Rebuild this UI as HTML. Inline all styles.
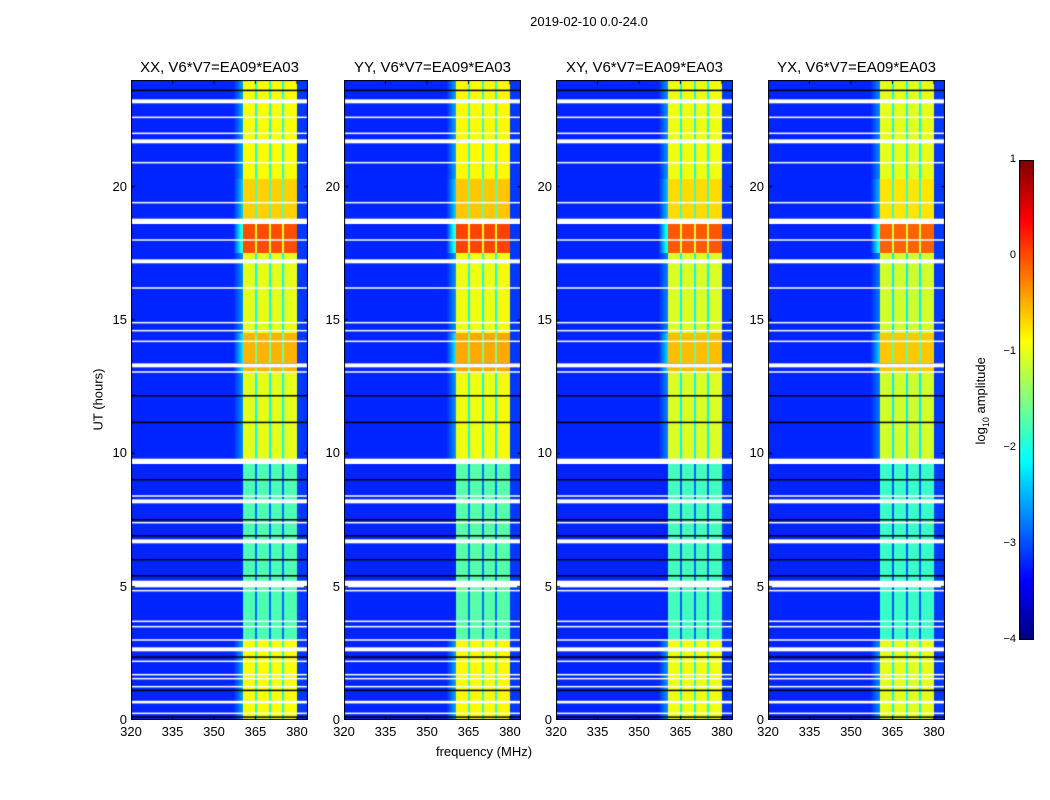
<!DOCTYPE html>
<html><head><meta charset="utf-8"><style>
body{margin:0;background:#fff;width:1050px;height:800px;position:relative;overflow:hidden;font-family:"Liberation Sans",sans-serif}
.t{position:absolute;white-space:nowrap;color:#000}
canvas{position:absolute}
</style></head><body>
<div class="t" style="left:489px;top:14px;width:200px;text-align:center;font-size:13px">2019-02-10 0.0-24.0</div>
<div class="t" style="left:384px;top:744px;width:200px;text-align:center;font-size:13px">frequency (MHz)</div>
<div class="t" style="left:48px;top:392px;width:100px;text-align:center;font-size:13px;transform:rotate(-90deg)">UT (hours)</div>
<div class="t" style="left:932px;top:392px;width:100px;text-align:center;font-size:13px;transform:rotate(-90deg)">log<sub style="font-size:9px">10</sub> amplitude</div>
<div id="root"></div>
<script>
// ---- data ----
const panelTitles=["XX, V6*V7=EA09*EA03","YY, V6*V7=EA09*EA03","XY, V6*V7=EA09*EA03","YX, V6*V7=EA09*EA03"];
const panelLeft=[131,344,556,768];
const panelGain=[0,0.05,-0.05,-0.1];
const segStart=[0,3,9.7,13,14.5,17.5,18.75,20.3];
const segLevel=[-0.9,-1.75,-1.0,-0.5,-1.0,0.0,-0.65,-0.9];
const whiteFlags=[[23.2,0.15],[21.7,0.15],[18.7,0.2],[17.2,0.15],[13.3,0.15],[9.7,0.2],[8.2,0.15],[6.7,0.15],[5.1,0.25],[2.65,0.15],[0.67,0.1],
[22.6,0.05],[22.0,0.05],[20.9,0.05],[19.4,0.05],[18.0,0.05],[16.2,0.05],[14.9,0.05],[14.6,0.05],[14.2,0.05],[13.05,0.05],[8.4,0.05],[7.4,0.05],[4.85,0.05],[3.7,0.05],[3.5,0.05],[3.0,0.05],[2.2,0.05],[1.7,0.05],[1.55,0.05],[1.25,0.05],[0.25,0.05]];
const blackLines=[23.6,18.75,13.35,12.15,11.15,9.0,7.5,6.9,6.0,5.4,2.35,1.1,0.1];
const xTicks=[320,335,350,365,380];
const yTicks=[0,5,10,15,20];
const cbTicks=[1,0,-1,-2,-3,-4];
const bandDips=[365.2,370.1,375.0];
// ---- axes ----
const W=177,H=640,TOP=80,F0=320,F1=384,T0=0,T1=24;
const xs=f=>(f-F0)/(F1-F0)*W, ys=t=>H-(t-T0)/(T1-T0)*H;
function jet(v){v=Math.max(0,Math.min(1,v));const c=x=>Math.max(0,Math.min(1,1.5-Math.abs(4*v-x)));return [c(3),c(2),c(1)].map(x=>Math.round(x*255));}
const norm=l=>(l+4)/5;
function levelAt(t){let l=segLevel[0];for(let i=0;i<segStart.length;i++)if(t>=segStart[i])l=segLevel[i];return l;}
function val(f,t,g){
 if(f<357)return -3.2;
 const L=levelAt(t)+g;
 if(f<360.5)return -3.2+(f-357)/3.5*Math.max(0,(L+1.6)*0.9);
 if(f>380.2)return -3.1;
 for(const d of bandDips)if(Math.abs(f-d)<0.35)return L-1.1;
 return L;
}
const root=document.getElementById('root');
panelTitles.forEach((title,p)=>{
 const L=panelLeft[p];
 const cv=document.createElement('canvas');
 
 
 cv.width=W;cv.height=H;cv.style.left=L+'px';cv.style.top=TOP+'px';
 const ctx=cv.getContext('2d');const img=ctx.createImageData(W,H);
 for(let y=0;y<H;y++){const t=T1-(y+0.5)/H*(T1-T0);
  for(let x=0;x<W;x++){const f=F0+(x+0.5)/W*(F1-F0);const c=jet(norm(val(f,t,panelGain[p])));const i=(y*W+x)*4;img.data[i]=c[0];img.data[i+1]=c[1];img.data[i+2]=c[2];img.data[i+3]=255;}}
 ctx.putImageData(img,0,0);
 ctx.fillStyle='#000';blackLines.forEach(t=>ctx.fillRect(0,ys(t)-1,W,1.5));
 ctx.fillStyle='#fff';whiteFlags.forEach(([t,w])=>{const h=Math.max(1.5,w/(T1-T0)*H);ctx.fillRect(0,ys(t)-h/2,W,h);});
 ctx.strokeStyle='#000';ctx.lineWidth=1;
 xTicks.forEach(f=>{ctx.beginPath();ctx.moveTo(xs(f),H);ctx.lineTo(xs(f),H-4);ctx.moveTo(xs(f),0);ctx.lineTo(xs(f),4);ctx.stroke();});
 yTicks.forEach(t=>{ctx.beginPath();ctx.moveTo(0,ys(t));ctx.lineTo(4,ys(t));ctx.moveTo(W,ys(t));ctx.lineTo(W-4,ys(t));ctx.stroke();});
 ctx.strokeRect(0.5,0.5,W-1,H-1);
 root.appendChild(cv);
 const tt=document.createElement('div');tt.className='t';
 
 
 tt.style.cssText=`left:${L-40}px;top:59px;width:${W+80}px;text-align:center;font-size:15px`;tt.textContent=title;root.appendChild(tt);
 xTicks.forEach(f=>{const d=document.createElement('div');d.className='t';
  
  
  d.style.cssText=`left:${L+xs(f)-20}px;top:724px;width:40px;text-align:center;font-size:13px`;d.textContent=f;root.appendChild(d);});
 yTicks.forEach(t=>{const d=document.createElement('div');d.className='t';
  
  
  d.style.cssText=`left:${L-44}px;top:${TOP+ys(t)-8}px;width:40px;text-align:right;font-size:13px`;d.textContent=t;root.appendChild(d);});
});
// colorbar
const cb=document.createElement('canvas');


cb.width=15;cb.height=480;cb.style.left='1019px';cb.style.top='160px';
const cx=cb.getContext('2d');
for(let y=0;y<480;y++){const c=jet(1-y/480);cx.fillStyle=`rgb(${c})`;cx.fillRect(0,y,15,1);}
cx.strokeStyle='#000';cx.strokeRect(0.5,0.5,14,479);
root.appendChild(cb);
cbTicks.forEach(v=>{const d=document.createElement('div');d.className='t';
 
 
 const y=160+(1-norm(v))*480;
 d.style.cssText=`left:996px;top:${y-7}px;width:20px;text-align:right;font-size:11px`;d.textContent=v<0?'\u2212'+(-v):v;root.appendChild(d);});
</script>
</body></html>
